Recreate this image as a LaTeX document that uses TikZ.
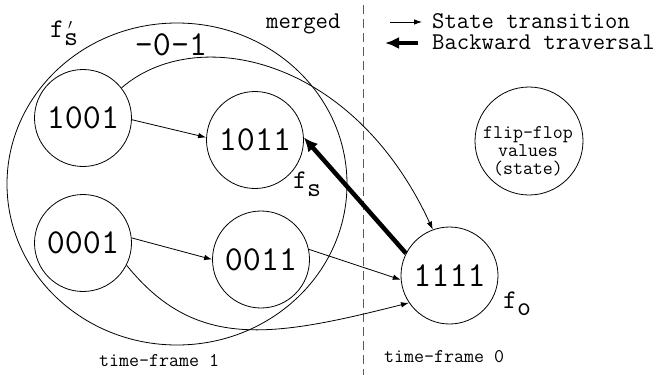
\documentclass[tikz,border=0pt]{standalone}
\usepackage{fontspec}
\usetikzlibrary{arrows.meta,shapes.geometric}
\begin{document}
\begin{tikzpicture}[x=1pt,y=-1pt,
  state/.style={draw, circle, minimum size=97pt, inner sep=0pt, line width=0.8pt,
    font=\ttfamily\fontsize{35}{35}\selectfont},
  setbox/.style={draw, ellipse, minimum width=340pt, minimum height=322pt, inner sep=0pt, line width=0.8pt},
  trans/.style={line width=0.8pt, -{Latex[length=8pt,width=5.5pt]}},
  back/.style={line width=4.5pt, -{Latex[length=14pt,width=13pt]}},
  flab/.style={inner sep=0pt, anchor=base west, font=\ttfamily\fontsize{27}{27}\selectfont},
  legtext/.style={inner sep=0pt, anchor=base west, font=\ttfamily\fontsize{24}{24}\selectfont},
  smalltext/.style={inner sep=0pt, font=\ttfamily\fontsize{19.4}{18}\selectfont},
  frame/.style={dash pattern=on 9pt off 5pt, line width=1pt, black!65}
]
\useasboundingbox (0,0) rectangle (662,375);

% time-frame separator
\coordinate (dtop) at (363,5);
\coordinate (dbot) at (363,375);
\draw[frame] (dtop) -- (dbot);

% merged set of states in time-frame 1
\node[setbox] (fsset) at (177,184) {};
\node[inner sep=0pt, anchor=base, font=\ttfamily\fontsize{35}{35}\selectfont] (cube) at (171,55) {-0-1};

% states
\node[state] (n1001) at (83,118) {1001};
\node[state] (n1011) at (255,140) {1011};
\node[state] (n0001) at (83,243) {0001};
\node[state] (n0011) at (261,259.5) {0011};
\node[state] (n1111) at (449.5,275.5) {1111};
\node[draw, circle, minimum size=108pt, inner sep=0pt, line width=0.8pt] (ffc) at (529,141) {};
\node[smalltext, align=center] (fft) at (528,151) {flip-flop\\values\\(state)};

% state transitions
\draw[trans] (n1001.-2) -- (n1011.177);
\draw[trans] (n0001.6) -- (n0011.west);
\draw[trans] (n0011.12) -- (n1111.185);
\draw[trans] (n1001.38) .. controls (195,24) and (352,55) .. (n1111.110);
\draw[trans] (n0001.-27) .. controls (195,350) and (270,338) .. (n1111.214);

% backward traversal
\draw[back] (n1111.153) -- (n1011.3);

% set labels
\node[flab] (fsp) at (50,37) {f\rlap{\hspace{4pt}\raisebox{8pt}{\fontsize{15}{15}\selectfont$\prime$}}\raisebox{-8pt}{s}};
\node[flab] (fsl) at (293,188) {f\raisebox{-8pt}{s}};
\node[flab] (fol) at (503,308) {f\raisebox{-7pt}{o}};

% header and legend
\node[legtext] (mergedl) at (266,28) {merged};
\coordinate (l1a) at (390,22);
\coordinate (l1b) at (422,22);
\draw[trans] (l1a) -- (l1b);
\node[legtext] (l1t) at (432,28) {State transition};
\coordinate (l2a) at (418,43);
\coordinate (l2b) at (385,43);
\draw[line width=4.5pt, -{Latex[length=14pt,width=12pt]}] (l2a) -- (l2b);
\node[legtext] (l2t) at (432,49) {Backward traversal};

% time-frame captions
\node[smalltext, anchor=base west] (tf1) at (99,366) {time-frame 1};
\node[smalltext, anchor=base west] (tf0) at (384,362) {time-frame 0};
\end{tikzpicture}
\end{document}
